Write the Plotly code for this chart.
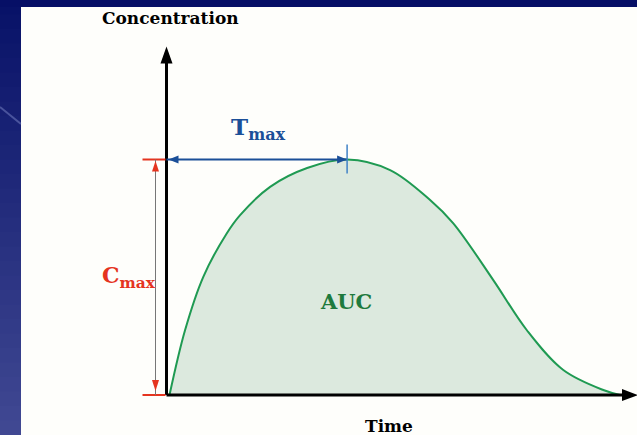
import plotly.graph_objects as go

# ---------------- data ----------------
time = [0.15, 0.93, 1.84, 3.01, 3.68, 5.18, 7.03, 9.03, 11.18, 13.18, 14.33, 16.34, 18.01,
        19.84, 21.84, 22.67]
conc = [0.0, 27.6, 50.2, 68.6, 76.4, 88.4, 96.4, 100.0, 95.5, 82.8, 73.0, 48.8, 27.6,
        10.6, 2.1, 0.0]

y_title = "Concentration"
x_title = "Time"
auc_label = "AUC"
tmax_label = "T<sub>max</sub>"
cmax_label = "C<sub>max</sub>"

# ---------------- geometry ----------------
W, H = 637, 435
PX = 20.0      # pixels per time unit
PY = 2.355     # pixels per concentration unit
OX, OY = 166.5, 395.0   # pixel position of origin

x_range = [-OX / PX, (W - OX) / PX]
y_range = [(OY - H) / PY, OY / PY]

Y_TOP = (OY - 46.5) / PY      # tip of the vertical axis arrow
X_RIGHT = (638 - OX) / PX     # tip of the horizontal axis arrow

i_max = max(range(len(conc)), key=lambda i: conc[i])
t_max = time[i_max]
c_max = conc[i_max]

FONT = "DejaVu Serif, serif"
BLUE = "#1b4f98"
RED = "#e5341f"
GREEN = "#1f9a52"
FILL = "#dce9de"
AUC_GREEN = "#1e7a3d"


def px(x):
    return x / W


def py(y):
    return 1 - y / H


fig = go.Figure()

fig.add_trace(go.Scatter(
    x=time, y=conc, mode="lines", line=dict(color=GREEN, width=2, shape="spline", smoothing=1.0),
    fill="tozeroy", fillcolor=FILL, hoverinfo="skip", showlegend=False))

shapes = []
# background: navy top bar and left strip gradient
n_bands = 30
top_c = (8, 18, 104)
bot_c = (64, 72, 146)
strip_w = 21
for k in range(n_bands):
    f = k / (n_bands - 1)
    c = tuple(round(top_c[j] + (bot_c[j] - top_c[j]) * f) for j in range(3))
    shapes.append(dict(type="rect", xref="paper", yref="paper", layer="below",
                       x0=0, x1=px(strip_w), y0=max(0, 1 - (k + 1) / n_bands - 0.004),
                       y1=1 - k / n_bands,
                       fillcolor="rgb(%d,%d,%d)" % c, line=dict(width=0)))
shapes.append(dict(type="rect", xref="paper", yref="paper", layer="below",
                   x0=0, x1=1, y0=py(7), y1=1, fillcolor="#060f66", line=dict(width=0)))
shapes.append(dict(type="line", xref="paper", yref="paper", layer="below",
                   x0=0, x1=px(strip_w), y0=py(107), y1=py(124),
                   line=dict(color="rgba(170,180,235,0.35)", width=2)))

# axes
shapes.append(dict(type="line", x0=0, x1=0, y0=0, y1=Y_TOP - 8 / PY,
                   line=dict(color="black", width=3)))
shapes.append(dict(type="line", x0=0, x1=X_RIGHT - 8 / PX, y0=0, y1=0,
                   line=dict(color="black", width=3)))
shapes.append(dict(type="path", xsizemode="pixel", ysizemode="pixel", xanchor=0, yanchor=Y_TOP,
                   path="M 0 0 L -6 -17 L 6 -17 Z", fillcolor="black", line=dict(width=0)))
shapes.append(dict(type="path", xsizemode="pixel", ysizemode="pixel", xanchor=X_RIGHT, yanchor=0,
                   path="M 0 0 L -16 6 L -16 -6 Z", fillcolor="black", line=dict(width=0)))

# Tmax double arrow
shapes.append(dict(type="line", x0=0, x1=t_max, y0=c_max, y1=c_max,
                   line=dict(color=BLUE, width=2)))
shapes.append(dict(type="path", xsizemode="pixel", ysizemode="pixel", xanchor=0, yanchor=c_max,
                   path="M 2 0 L 12 4 L 12 -4 Z", fillcolor=BLUE, line=dict(width=0)))
shapes.append(dict(type="path", xsizemode="pixel", ysizemode="pixel", xanchor=t_max, yanchor=c_max,
                   path="M 0 0 L -10 4 L -10 -4 Z", fillcolor=BLUE, line=dict(width=0)))
shapes.append(dict(type="line", ysizemode="pixel", yanchor=c_max, x0=t_max, x1=t_max, y0=-14, y1=15,
                   line=dict(color="#3f82c6", width=1.5)))

# Cmax double arrow
for yv in (c_max, 0):
    shapes.append(dict(type="line", xsizemode="pixel", xanchor=0, x0=-24, x1=-1, y0=yv, y1=yv,
                       line=dict(color=RED, width=2)))
shapes.append(dict(type="line", xsizemode="pixel", xanchor=0, x0=-11, x1=-11, y0=0, y1=c_max,
                   line=dict(color="#777777", width=1)))
shapes.append(dict(type="path", xsizemode="pixel", ysizemode="pixel", xanchor=0, yanchor=c_max,
                   path="M -11 -1.5 L -14.5 -12 L -7.5 -12 Z", fillcolor=RED, line=dict(width=0)))
shapes.append(dict(type="path", xsizemode="pixel", ysizemode="pixel", xanchor=0, yanchor=0,
                   path="M -11 4 L -14.5 15 L -7.5 15 Z", fillcolor=RED, line=dict(width=0)))

annotations = [
    dict(text="<b>%s</b>" % y_title, xref="paper", yref="paper", x=px(170), y=py(18),
         xanchor="center", yanchor="middle", showarrow=False,
         font=dict(family=FONT, size=17, color="black")),
    dict(text="<b>%s</b>" % x_title, xref="paper", yref="paper", x=px(388.5), y=py(425.5),
         xanchor="center", yanchor="middle", showarrow=False,
         font=dict(family=FONT, size=17, color="black")),
    dict(text="<b>%s</b>" % auc_label, xref="paper", yref="paper", x=px(346.5), y=py(301.5),
         xanchor="center", yanchor="middle", showarrow=False,
         font=dict(family=FONT, size=21, color=AUC_GREEN)),
    dict(text="<b>%s</b>" % tmax_label, xref="paper", yref="paper", x=px(229), y=py(129),
         xanchor="left", yanchor="middle", showarrow=False,
         font=dict(family=FONT, size=23, color=BLUE)),
    dict(text="<b>%s</b>" % cmax_label, xref="paper", yref="paper", x=px(100), y=py(277),
         xanchor="left", yanchor="middle", showarrow=False,
         font=dict(family=FONT, size=22, color=RED)),
]

fig.update_layout(
    width=W, height=H, autosize=False,
    margin=dict(l=0, r=0, t=0, b=0, pad=0),
    paper_bgcolor="#fefefb", plot_bgcolor="rgba(0,0,0,0)",
    xaxis=dict(range=x_range, visible=False, fixedrange=True),
    yaxis=dict(range=y_range, visible=False, fixedrange=True),
    shapes=shapes, annotations=annotations, showlegend=False,
)

fig.write_html("out.html", config={"displayModeBar": False, "staticPlot": True},
               post_script="document.body.style.margin='0';document.body.style.overflow='hidden';")
